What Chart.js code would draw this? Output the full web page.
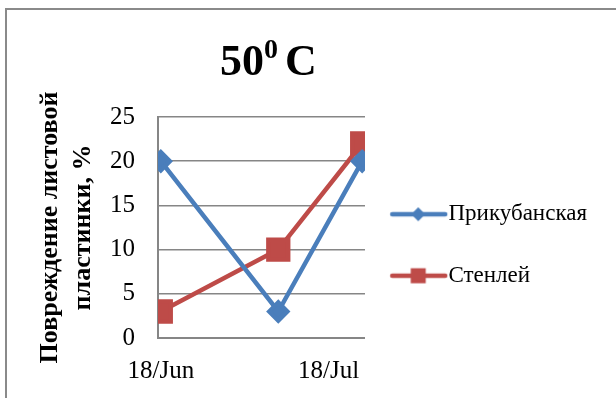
<!DOCTYPE html>
<html>
<head>
<meta charset="utf-8">
<script src="https://cdn.jsdelivr.net/npm/chart.js@4/dist/chart.umd.min.js"></script>
<style>
  html, body { margin: 0; padding: 0; background: #fff; }
  #wrap { position: relative; width: 616px; height: 398px; overflow: hidden; }
  #frame { position: absolute; left: 5px; top: 8px; width: 700px; height: 500px; border: 2px solid #8a8a8a; box-sizing: border-box; pointer-events: none; }
  canvas { position: absolute; left: 0; top: 0; }
</style>
</head>
<body>
<div id="wrap">
  <canvas id="c" width="616" height="398"></canvas>
  <div id="frame"></div>
</div>
<script>
// ---- data ----
const dates = ['2013-06-18', '2013-07-09', '2013-07-24'];
const seriesNames = ['Прикубанская', 'Стенлей'];
const prikubanskaya = [20, 3, 20];
const stenley = [3, 10, 22];
const xTickDates = ['2013-06-18', '2013-07-18'];
const xTickLabels = ['18/Jun', '18/Jul'];
const yTicks = [0, 5, 10, 15, 20, 25];
const titleMain = '50';
const titleSup = '0';
const titleTail = 'C';
const yTitle = ['Повреждение листовой', 'пластинки, %'];

const DAY = 86400000;
const t0 = Date.parse(dates[0]);
const dayOf = d => (Date.parse(d) - t0) / DAY;
const xs = dates.map(dayOf);
const xTickVals = xTickDates.map(dayOf);

const BLUE = '#4A7EBB';
const RED = '#BE4B48';
const SERIF = '"Liberation Serif", "Times New Roman", serif';

// legend symbol: line with marker (image is wider than the box so the line can sit where needed)
function legendImg(color, shape) {
  const c = document.createElement('canvas');
  c.width = 76; c.height = 20;
  const g = c.getContext('2d');
  g.strokeStyle = color; g.lineWidth = 4.5; g.lineCap = 'round';
  g.beginPath(); g.moveTo(10, 10); g.lineTo(63, 10); g.stroke();
  g.fillStyle = color;
  const cx = 36, cy = 10;
  if (shape === 'diamond') {
    g.beginPath(); g.moveTo(cx, cy - 7); g.lineTo(cx + 7, cy); g.lineTo(cx, cy + 7); g.lineTo(cx - 7, cy); g.closePath(); g.fill();
  } else {
    g.fillRect(cx - 7.5, cy - 7.5, 15, 15);
  }
  return c;
}
const legendImgs = [legendImg(BLUE, 'diamond'), legendImg(RED, 'square')];

const helperPlugin = {
  id: 'helper',
  beforeUpdate(chart) {
    const lg = chart.legend;
    if (lg && !lg._wideOk) {
      const orig = lg.update;
      lg.update = function (mw, mh, m) { return orig.call(this, Math.max(mw, 260), mh, m); };
      lg._wideOk = true;
    }
  },
  afterDraw(chart) {
    const ctx = chart.ctx;
    ctx.save();
    ctx.fillStyle = '#000';
    ctx.textBaseline = 'alphabetic';
    const big = 'bold 44px ' + SERIF, small = 'bold 28px ' + SERIF;
    const base = 75;
    let x = 220;
    ctx.font = big; ctx.fillText(titleMain, x, base); x += ctx.measureText(titleMain).width;
    ctx.font = small; ctx.fillText(titleSup, x, base - 17); x += ctx.measureText(titleSup).width;
    ctx.font = big; ctx.fillText(titleTail, x + 7, base);
    ctx.restore();
  }
};

new Chart(document.getElementById('c'), {
  type: 'line',
  data: {
    datasets: [
      {
        label: seriesNames[0],
        data: xs.map((x, i) => ({x, y: prikubanskaya[i]})),
        borderColor: BLUE, backgroundColor: BLUE, borderWidth: 4.5,
        pointStyle: 'rectRot', pointRadius: 9, pointBackgroundColor: BLUE, pointBorderColor: BLUE,
        tension: 0
      },
      {
        label: seriesNames[1],
        data: xs.map((x, i) => ({x, y: stenley[i]})),
        borderColor: RED, backgroundColor: RED, borderWidth: 4.5,
        pointStyle: 'rect', pointRadius: 14, pointBackgroundColor: RED, pointBorderColor: RED,
        tension: 0
      }
    ]
  },
  options: {
    responsive: false,
    animation: false,
    layout: { padding: { top: 117, left: 33, right: 19, bottom: 0 } },
    plugins: {
      title: { display: false },
      tooltip: { enabled: false },
      legend: {
        position: 'right',
        fullSize: false,
        title: { display: true, text: ' ', font: { size: 24, lineHeight: 1 }, padding: 5.5 },
        labels: {
          usePointStyle: true,
          pointStyleWidth: 33.5,
          padding: 38.5,
          color: '#000',
          font: { family: SERIF, size: 23 },
          generateLabels(chart) {
            return chart.data.datasets.map((ds, i) => ({
              text: ds.label, pointStyle: legendImgs[i], fillStyle: ds.borderColor,
              strokeStyle: ds.borderColor, lineWidth: 0, datasetIndex: i, hidden: false, fontColor: '#000'
            }));
          }
        }
      }
    },
    scales: {
      x: {
        type: 'linear',
        min: -0.5, max: 36.5,
        afterBuildTicks(scale) { scale.ticks = xTickVals.map(v => ({value: v})); },
        afterFit(scale) { scale.height = 60; },
        ticks: {
          autoSkip: false, maxRotation: 0, padding: 18, color: '#000',
          font: { family: SERIF, size: 25 },
          callback(v) { const i = xTickVals.indexOf(v); return i >= 0 ? xTickLabels[i] : ''; }
        },
        grid: { display: false, drawTicks: false },
        border: { display: true, color: '#868686', width: 2 }
      },
      y: {
        min: 0, max: 25,
        afterBuildTicks(scale) { scale.ticks = yTicks.map(v => ({value: v})); },
        afterFit(scale) { scale.width = 125; },
        ticks: { padding: 23, color: '#000', font: { family: SERIF, size: 25 } },
        grid: { color: '#868686', lineWidth: 1.5, drawTicks: false },
        border: { display: true, color: '#868686', width: 2 },
        title: {
          display: true, text: yTitle, color: '#000',
          font: { family: SERIF, size: 26, weight: 'bold', lineHeight: 1.3 },
          padding: { top: 0, bottom: 0 }
        }
      }
    }
  },
  plugins: [helperPlugin]
});
</script>
</body>
</html>
